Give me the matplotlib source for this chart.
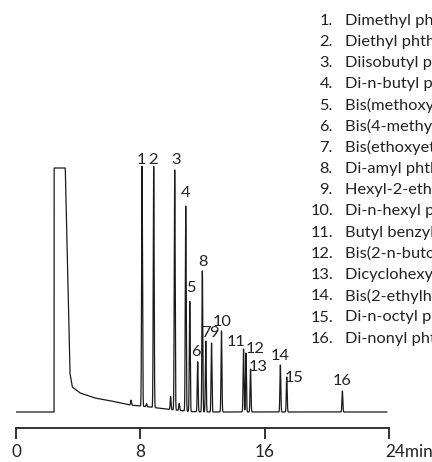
import matplotlib.pyplot as plt
import numpy as np

# retention times (min) and apex heights of the 16 phthalates
peak_no = list(range(1, 17))
peak_t = [8.11, 8.86, 10.21, 10.92, 11.18, 11.69, 12.21, 11.99,
          12.58, 13.22, 14.64, 14.80, 15.09, 17.01, 17.42, 21.0]
peak_h = [240, 241, 240, 205, 110, 50, 71, 141,
          69, 81, 63, 59, 43, 47, 35, 21]

# small unlabelled peaks
minor_t = [7.4, 8.4, 9.95, 10.5]
minor_h = [5, 3, 13, 7]

# solvent front and its tail
solvent_t = [2.449, 2.45, 3.17, 3.47, 3.62, 4.12, 5.08, 6.05, 7.33, 8.6, 9.9, 11.2, 12.0]
solvent_h = [0, 244, 244, 39, 25, 19, 14, 11.3, 7, 5, 2.5, 0.5, 0]

compounds = ["Dimethyl phthalate", "Diethyl phthalate", "Diisobutyl phthalate",
             "Di-n-butyl phthalate", "Bis(methoxyethyl) phthalate",
             "Bis(4-methyl-2-pentyl) phthalate", "Bis(ethoxyethyl) phthalate",
             "Di-amyl phthalate", "Hexyl-2-ethylhexyl phthalate",
             "Di-n-hexyl phthalate", "Butyl benzyl phthalate",
             "Bis(2-n-butoxyethyl) phthalate", "Dicyclohexyl phthalate",
             "Bis(2-ethylhexyl) phthalate", "Di-n-octyl phthalate",
             "Di-nonyl phthalate"]

# label offsets from each apex, in pixels (dx right, dy up)
lab_dx = [-1, -1, 1, 0, 1, -2, 0, 1, 2, 1, -7, 9, 8, 0, 7, 0]
lab_dy = [12, 11, 12, 14, 14, 10, 8, 9, 10, 9, 7, 4, 2, 9, -1, 10]

plt.rcParams['font.family'] = ['Lato', 'DejaVu Sans']
fs = 11.8

fig = plt.figure(figsize=(4.32, 4.62), dpi=100)
ax = fig.add_axes([16/432, 34/462, 373/432, 428/462])

t = np.arange(0, 23.86, 0.002)
sig = np.interp(t, solvent_t, solvent_h, left=0, right=0)
sigma = 0.028
for tc, h in zip(peak_t + minor_t, peak_h + minor_h):
    sig += h * np.exp(-0.5 * ((t - tc) / sigma) ** 2)

ax.plot(t, sig, color='#1a1a1a', lw=0.9)

px = 0.72  # points per pixel at 100 dpi
for n, tc, h, dx, dy in zip(peak_no, peak_t, peak_h, lab_dx, lab_dy):
    ax.annotate(str(n), (tc, h), xytext=(dx*px, dy*px), textcoords='offset points',
                ha='center', va='center', fontsize=fs, color='#222222')

# compound list
for i, name in enumerate(compounds):
    y = 1 - (20.7 + 21.2*i) / 462
    fig.text(333/432, y, f"{i+1}.", ha='right', va='center', fontsize=fs, color='#222222')
    fig.text(345/432, y, name, ha='left', va='center', fontsize=fs, color='#222222')

ax.set_xlim(0, 24)
ax.set_ylim(-16, 412)
for s in ['top', 'right', 'left']:
    ax.spines[s].set_visible(False)
ax.spines['bottom'].set_linewidth(1.3)
ax.spines['bottom'].set_color('#222222')
ax.set_yticks([])
ax.set_xticks([0, 8, 16, 24])
ax.set_xticklabels(['0', '8', '16', ''])
ax.tick_params(axis='x', direction='out', length=7.8, width=1.3, color='#222222',
               labelsize=fs+0.5, pad=4, labelcolor='#222222')
ax.annotate('24min', (24, 0), xycoords=('data', 'axes fraction'),
            xytext=(-3, -11.2), textcoords='offset points', ha='left', va='top',
            fontsize=fs+0.5, color='#222222')

fig.savefig('out.png', dpi=100)
